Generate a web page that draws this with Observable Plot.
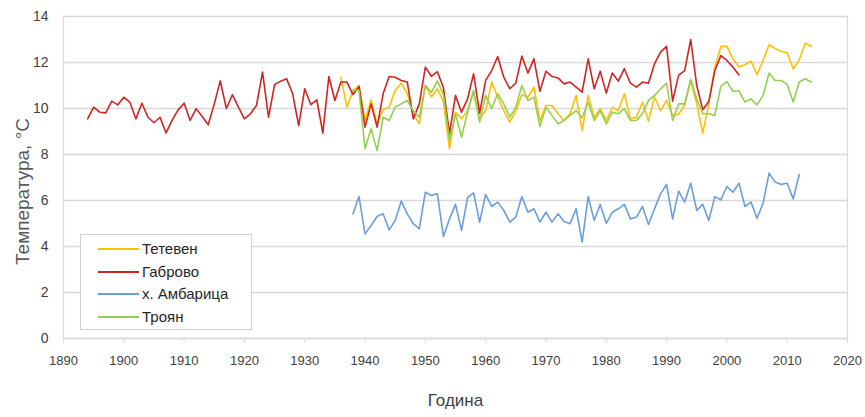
<!DOCTYPE html>
<html>
<head>
<meta charset="utf-8">
<script src="https://cdn.jsdelivr.net/npm/d3@7"></script>
<script src="https://cdn.jsdelivr.net/npm/@observablehq/plot@0.6"></script>
<style>
  html, body { margin: 0; padding: 0; background: #fff; }
  #wrap { position: relative; width: 865px; height: 417px; font-family: "Liberation Sans", Arial, sans-serif; }
  #legend { position: absolute; left: 80px; top: 234px; width: 172px; height: 96px; border: 1px solid #d0d0d0; background: #fff; box-sizing: border-box; }
  .row { position: absolute; left: 0; height: 20px; }
  .sw { position: absolute; left: 17px; width: 41px; height: 2px; top: 9px; }
  .lb { position: absolute; left: 61px; top: 1px; font-size: 15px; line-height: 18px; color: #262626; white-space: nowrap; }
</style>
</head>
<body>
<div id="wrap"></div>
<script>
// Series names (legend order)
const seriesNames = ["Тетевен", "Габрово", "х. Амбарица", "Троян"];
const seriesColors = ["#FFC000", "#D02424", "#6A9EDB", "#92D050"];

// Габрово: 1894–2002
const gabrovoStart = 1894;
const gabrovo = [9.55,10.06,9.84,9.81,10.32,10.16,10.49,10.27,9.55,10.23,
  9.62,9.38,9.62,8.94,9.48,9.94,10.23,9.48,9.99,9.65,
  9.29,10.2,11.2,10.0,10.6,10.06,9.55,9.77,10.13,11.58,
  9.62,11.04,11.19,11.29,10.64,9.26,10.86,10.17,10.38,8.93,
  11.39,10.35,11.15,11.15,10.6,10.96,9.19,10.2,9.19,10.64,
  11.39,11.36,11.22,11.15,9.55,10.2,11.8,11.4,11.6,10.9,
  8.9,10.57,9.84,10.42,11.51,9.8,11.22,11.65,12.26,11.36,
  10.86,11.1,12.28,11.54,12.16,10.75,11.62,11.39,11.33,11.07,
  11.15,10.93,10.71,12.16,10.86,11.62,10.67,11.54,11.19,11.73,
  11.1,10.93,11.15,11.1,11.95,12.45,12.7,10.32,11.45,11.65,
  13.0,11.0,9.95,10.3,11.65,12.3,12.09,11.8,11.46];

// Тетевен: 1936–2014
const tetevenStart = 1936;
const teteven = [11.36,10.06,10.78,11.0,9.48,10.38,9.33,9.94,10.06,10.78,
  11.1,10.64,9.77,9.33,11.0,10.5,10.86,10.3,8.25,9.84,
  9.55,9.91,10.71,9.55,9.91,11.15,10.49,9.91,9.41,9.9,
  10.6,10.49,10.93,9.48,10.13,10.13,9.77,9.48,9.77,10.57,
  9.04,10.57,9.62,9.99,9.48,10.06,9.91,10.64,9.55,9.62,
  10.28,9.45,10.5,9.91,10.35,9.7,9.75,10.15,11.22,10.2,
  8.93,10.2,11.8,12.7,12.7,12.16,11.8,11.9,12.06,11.48,
  12.09,12.77,12.6,12.49,12.41,11.73,12.12,12.84,12.7];

// Троян: 1938–2014
const troyanStart = 1938;
const troyan = [10.8,10.78,8.25,9.12,8.17,9.62,9.48,10.06,10.2,10.35,
  9.9,9.62,11.0,10.7,11.2,10.6,8.61,9.77,8.75,9.84,
  10.78,9.41,10.57,9.99,10.64,10.2,9.62,10.05,11.0,10.35,
  10.49,9.22,10.06,9.7,9.33,9.48,9.7,9.91,9.6,10.28,
  9.48,9.91,9.33,9.84,9.77,9.99,9.48,9.48,9.77,10.35,
  10.57,10.85,11.1,9.48,10.2,10.2,11.27,10.42,9.77,9.77,
  9.7,10.96,11.17,10.74,10.78,10.28,10.42,10.16,10.57,11.54,
  11.22,11.22,11.04,10.28,11.15,11.29,11.15];

// х. Амбарица: 1938–2012
const ambaritsaStart = 1938;
const ambaritsa = [5.42,6.17,4.55,4.91,5.3,5.42,4.72,5.13,5.97,5.42,
  4.99,4.77,6.36,6.22,6.29,4.43,5.2,5.83,4.7,6.12,
  6.33,5.06,6.26,5.74,5.93,5.57,5.06,5.28,6.17,5.49,
  5.64,5.06,5.49,5.06,5.42,5.09,4.99,5.64,4.19,6.17,
  5.13,5.83,5.01,5.49,5.64,5.83,5.2,5.28,5.74,4.96,
  5.64,6.29,6.7,5.2,6.41,5.93,6.75,5.57,5.83,5.13,
  6.17,6.03,6.61,6.36,6.75,5.74,5.93,5.23,5.88,7.19,
  6.8,6.7,6.75,6.07,7.13];

// Axis ticks
const xTicks = [1890,1900,1910,1920,1930,1940,1950,1960,1970,1980,1990,2000,2010,2020];
const yTicks = [0,2,4,6,8,10,12,14];
const xTitle = "Година";
const yTitle = "Температура, °С";

const toRows = (name, start, vals) => vals.map((v, i) => ({series: name, year: start + i, value: v}));
const data = [
  ...toRows("Тетевен", tetevenStart, teteven),
  ...toRows("Габрово", gabrovoStart, gabrovo),
  ...toRows("х. Амбарица", ambaritsaStart, ambaritsa),
  ...toRows("Троян", troyanStart, troyan)
];

const grid = "#d9d9d9";
const chart = Plot.plot({
  width: 865,
  height: 417,
  marginLeft: 63,
  marginRight: 18,
  marginTop: 16,
  marginBottom: 79,
  style: {fontFamily: '"Liberation Sans", Arial, sans-serif', background: "#fff"},
  x: {domain: [1890, 2020]},
  y: {domain: [0, 14]},
  color: {domain: seriesNames, range: seriesColors},
  marks: [
    Plot.gridY(yTicks, {stroke: grid, strokeOpacity: 1, strokeWidth: 1.3}),
    Plot.ruleX([1890, 2020], {stroke: grid, strokeWidth: 1.3}),
    Plot.ruleY([0], {stroke: grid, strokeWidth: 1.3}),
    Plot.axisX(xTicks, {tickSize: 5, tickPadding: 12, stroke: grid, tickFormat: d => String(d), fontSize: 13, fill: "#404040", label: null}),
    Plot.axisY(yTicks, {tickSize: 0, tickPadding: 15, fontSize: 14, fill: "#404040", label: null}),
    Plot.line(data, {x: "year", y: "value", z: "series", stroke: "series", strokeWidth: 1.6}),
    Plot.text([xTitle], {frameAnchor: "bottom", dy: 67, fontSize: 17, fill: "#404040"}),
    Plot.text([yTitle], {frameAnchor: "left", textAnchor: "middle", dx: -41, dy: 14, rotate: -90, fontSize: 19, fill: "#595959", letterSpacing: "2px"})
  ]
});

const wrap = document.getElementById("wrap");
wrap.appendChild(chart);

const legend = document.createElement("div");
legend.id = "legend";
seriesNames.forEach((name, i) => {
  const row = document.createElement("div");
  row.className = "row";
  row.style.top = (4 + i * 22.6) + "px";
  const sw = document.createElement("div");
  sw.className = "sw";
  sw.style.background = seriesColors[i];
  const lb = document.createElement("div");
  lb.className = "lb";
  lb.textContent = name;
  row.appendChild(sw);
  row.appendChild(lb);
  legend.appendChild(row);
});
wrap.appendChild(legend);
</script>
</body>
</html>
